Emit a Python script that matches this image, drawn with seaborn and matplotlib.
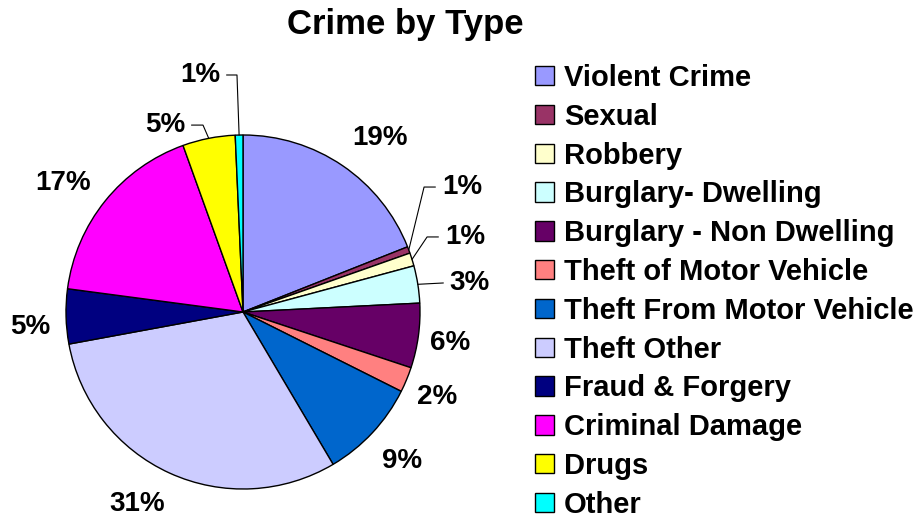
#!/usr/bin/env python3
"""pie chart of recorded crime split by type"""
import numpy as np
import matplotlib
matplotlib.use("Agg")
import matplotlib.pyplot as plt
import seaborn as sns

categories = [
    "Violent Crime", "Sexual", "Robbery", "Burglary- Dwelling",
    "Burglary - Non Dwelling", "Theft of Motor Vehicle",
    "Theft From Motor Vehicle", "Theft Other", "Fraud & Forgery",
    "Criminal Damage", "Drugs", "Other",
]
shares = [19.0, 0.6, 1.2, 3.4, 5.9, 2.3, 9.1, 30.6, 5.0, 17.4, 4.8, 0.7]
colours = [
    "#9999FF", "#993366", "#FFFFCC", "#CCFFFF", "#660066", "#FF8080",
    "#0066CC", "#CCCCFF", "#000080", "#FF00FF", "#FFFF00", "#00FFFF",
]

# small slices get their label moved out with a leader line
# index -> (label x, label y, knee x) in pie-radius units
leader_labels = {
    1: (1.237, 0.706, 1.023),
    2: (1.254, 0.424, 1.040),
    3: (1.282, 0.164, None),
    10: (-0.441, 1.056, -0.226),
    11: (-0.243, 1.339, -0.034),
}
# labels nudged without a leader, same units
nudged_labels = {
    0: (0.774, 0.983),
    4: (1.169, -0.175),
    5: (1.096, -0.480),
    7: (-0.597, -1.087),
    8: (-1.203, -0.085),
    9: (-1.017, 0.729),
}

sns.set_theme(style="white")
plt.rcParams["font.family"] = ["Liberation Sans", "DejaVu Sans"]
plt.rcParams["font.weight"] = "bold"
plt.rcParams["text.color"] = "black"

fig = plt.figure(figsize=(9.24, 5.21), dpi=100)
W, H = 924, 521
cx, cy, r = 243, 312, 177
span = 1.5
ax = fig.add_axes([(cx - span * r) / W, (H - cy - span * r) / H,
                   2 * span * r / W, 2 * span * r / H])

wedges, texts, autotexts = ax.pie(
    shares, colors=colours, startangle=90, counterclock=False,
    autopct=lambda p: f"{p:.0f}%", pctdistance=1.23,
    wedgeprops=dict(edgecolor="black", linewidth=1.0),
    textprops=dict(fontsize=20, fontweight="bold", color="black"),
)
# pie resets the limits, so set them afterwards
ax.set_xlim(-span, span)
ax.set_ylim(-span, span)
ax.axis("off")

for i, pos in nudged_labels.items():
    autotexts[i].set_position(pos)

for i, (lx, ly, kx) in leader_labels.items():
    w = wedges[i]
    mid = np.deg2rad((w.theta1 + w.theta2) / 2)
    sx, sy = np.cos(mid), np.sin(mid)
    autotexts[i].set_position((lx, ly))
    side = 1 if lx > 0 else -1
    ex = lx - side * 0.15
    if kx is None:
        xs, ys = [sx, ex], [sy, ly]
    else:
        xs, ys = [sx, kx, ex], [sy, ly, ly]
    ax.plot(xs, ys, color="black", linewidth=0.8, clip_on=False)

fig.text(405 / W, (H - 34) / H, "Crime by Type", ha="center",
         va="baseline", fontsize=25, fontweight="bold", color="black")

fig.legend(
    wedges, categories, loc="upper left",
    bbox_to_anchor=(535 / W, (H - 64) / H), frameon=False, borderpad=0,
    borderaxespad=0, prop=dict(size=21, weight="bold"),
    handlelength=0.65, handleheight=0.65, handletextpad=0.34,
    labelspacing=0.37, labelcolor="black",
)

fig.savefig("out.png", dpi=100, facecolor="white")
